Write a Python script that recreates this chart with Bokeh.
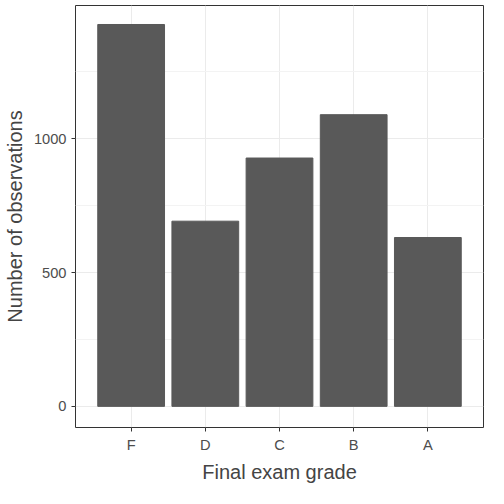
from bokeh.plotting import figure
from bokeh.embed import file_html
from bokeh.resources import INLINE
from bokeh.models import FixedTicker, Range1d

grades = ["F", "D", "C", "B", "A"]
counts = [1427, 692, 928, 1090, 631]

p = figure(x_range=grades, frame_width=408, frame_height=422, output_backend="svg",
           toolbar_location=None, min_border_left=5, min_border_right=3,
           min_border_top=5, min_border_bottom=5)
p.vbar(x=grades, top=counts, width=0.9, color="#595959")
p.y_range = Range1d(-79, 1498)
p.x_range.range_padding = 0.1
p.yaxis.ticker = FixedTicker(ticks=[0, 500, 1000], minor_ticks=[250, 750, 1250])
p.xaxis.axis_label = "Final exam grade"
p.yaxis.axis_label = "Number of observations"
for ax in (p.xaxis, p.yaxis):
    ax.axis_label_text_font = "Liberation Sans"
    ax.axis_label_text_font_size = "15pt"
    ax.axis_label_text_font_style = "normal"
    ax.major_label_text_font = "Liberation Sans"
    ax.major_label_text_font_size = "11pt"
    ax.major_label_text_color = "#4d4d4d"
    ax.axis_line_color = None
    ax.major_tick_line_color = "#333333"
    ax.minor_tick_line_color = None
    ax.major_tick_out = 4
    ax.major_tick_in = 0
p.grid.grid_line_color = "#ebebeb"
p.ygrid.minor_grid_line_color = "#f3f3f3"
p.outline_line_color = "#333333"
p.outline_line_width = 1
open("out.html", "w").write(file_html(p, INLINE))
